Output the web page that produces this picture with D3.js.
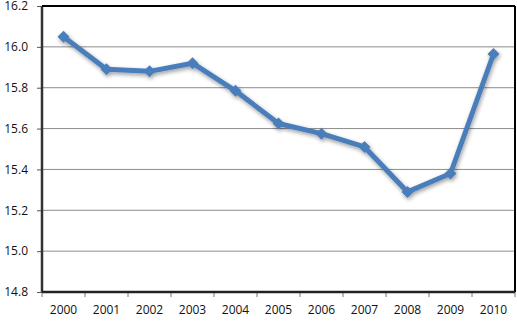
<!DOCTYPE html>
<html><head><meta charset="utf-8">
<script src="https://cdn.jsdelivr.net/npm/d3@7"></script>
<style>body{margin:0;background:#fff}svg{display:block}</style>
</head><body>
<svg id="c" width="517" height="321"></svg>
<script>
const years = ["2000","2001","2002","2003","2004","2005","2006","2007","2008","2009","2010"];
const values = [16.05,15.89,15.88,15.92,15.785,15.625,15.575,15.51,15.29,15.38,15.965];
const yTicks = [14.8,15.0,15.2,15.4,15.6,15.8,16.0,16.2];

const svg = d3.select("#c");
const L=42,R=515,T=6,B=292;
const x = d3.scaleBand().domain(years).range([L,R]);
const y = d3.scaleLinear().domain([14.8,16.2]).range([B,T]);
const font = "'Open Sans', sans-serif";

const defs = svg.append("defs");
const f = defs.append("filter").attr("id","sh").attr("x","-50%").attr("y","-50%").attr("width","200%").attr("height","200%");
f.append("feGaussianBlur").attr("in","SourceAlpha").attr("stdDeviation",2).attr("result","b");
f.append("feOffset").attr("dx",1).attr("dy",2).attr("result","o");
f.append("feComponentTransfer").append("feFuncA").attr("type","linear").attr("slope",0.4);
const m = f.append("feMerge"); m.append("feMergeNode"); m.append("feMergeNode").attr("in","SourceGraphic");

// gridlines
svg.append("g").selectAll("line").data(yTicks.slice(1,-1)).join("line")
  .attr("x1",L).attr("x2",R).attr("y1",d=>y(d)).attr("y2",d=>y(d))
  .attr("stroke","#8c8c8c").attr("stroke-width",1);

// y axis
const ya = svg.append("g").attr("transform",`translate(${L},0)`)
  .call(d3.axisLeft(y).tickValues(yTicks).tickFormat(d3.format(".1f")).tickSize(5).tickPadding(9));
ya.select(".domain").remove();
ya.selectAll("line").attr("stroke","#555");
ya.selectAll("text").attr("font-family",font).attr("font-size",12).attr("fill","#111");

// x axis
const xa = svg.append("g").attr("transform",`translate(0,${B})`)
  .call(d3.axisBottom(x).tickSize(0).tickPadding(13));
xa.select(".domain").remove();
xa.selectAll("text").attr("font-family",font).attr("font-size",12).attr("fill","#111");
svg.append("g").selectAll("line").data(years.concat(["end"])).join("line")
  .attr("x1",(d,i)=>L+i*x.step()).attr("x2",(d,i)=>L+i*x.step())
  .attr("y1",B).attr("y2",B+5).attr("stroke","#777");

// frame
svg.append("line").attr("x1",L).attr("x2",L).attr("y1",T).attr("y2",B).attr("stroke","#333").attr("stroke-width",2.5);
svg.append("line").attr("x1",L).attr("x2",R).attr("y1",T).attr("y2",T).attr("stroke","#000").attr("stroke-width",2);
svg.append("line").attr("x1",R).attr("x2",R).attr("y1",T).attr("y2",B).attr("stroke","#000").attr("stroke-width",2);
svg.append("line").attr("x1",L).attr("x2",R).attr("y1",B).attr("y2",B).attr("stroke","#222").attr("stroke-width",2.5);

// line
const cx = d=>x(d)+x.bandwidth()/2;
const g = svg.append("g").attr("filter","url(#sh)");
g.append("path").datum(years.map((d,i)=>[cx(d),y(values[i])]))
  .attr("d",d3.line()).attr("fill","none").attr("stroke","#4a7ebb").attr("stroke-width",5).attr("stroke-linejoin","round");
g.selectAll("path.m").data(years).join("path").attr("class","m")
  .attr("d",d3.symbol(d3.symbolSquare,72))
  .attr("transform",(d,i)=>`translate(${cx(d)},${y(values[i])}) rotate(45)`)
  .attr("fill","#4a7ebb");
</script>
</body></html>
